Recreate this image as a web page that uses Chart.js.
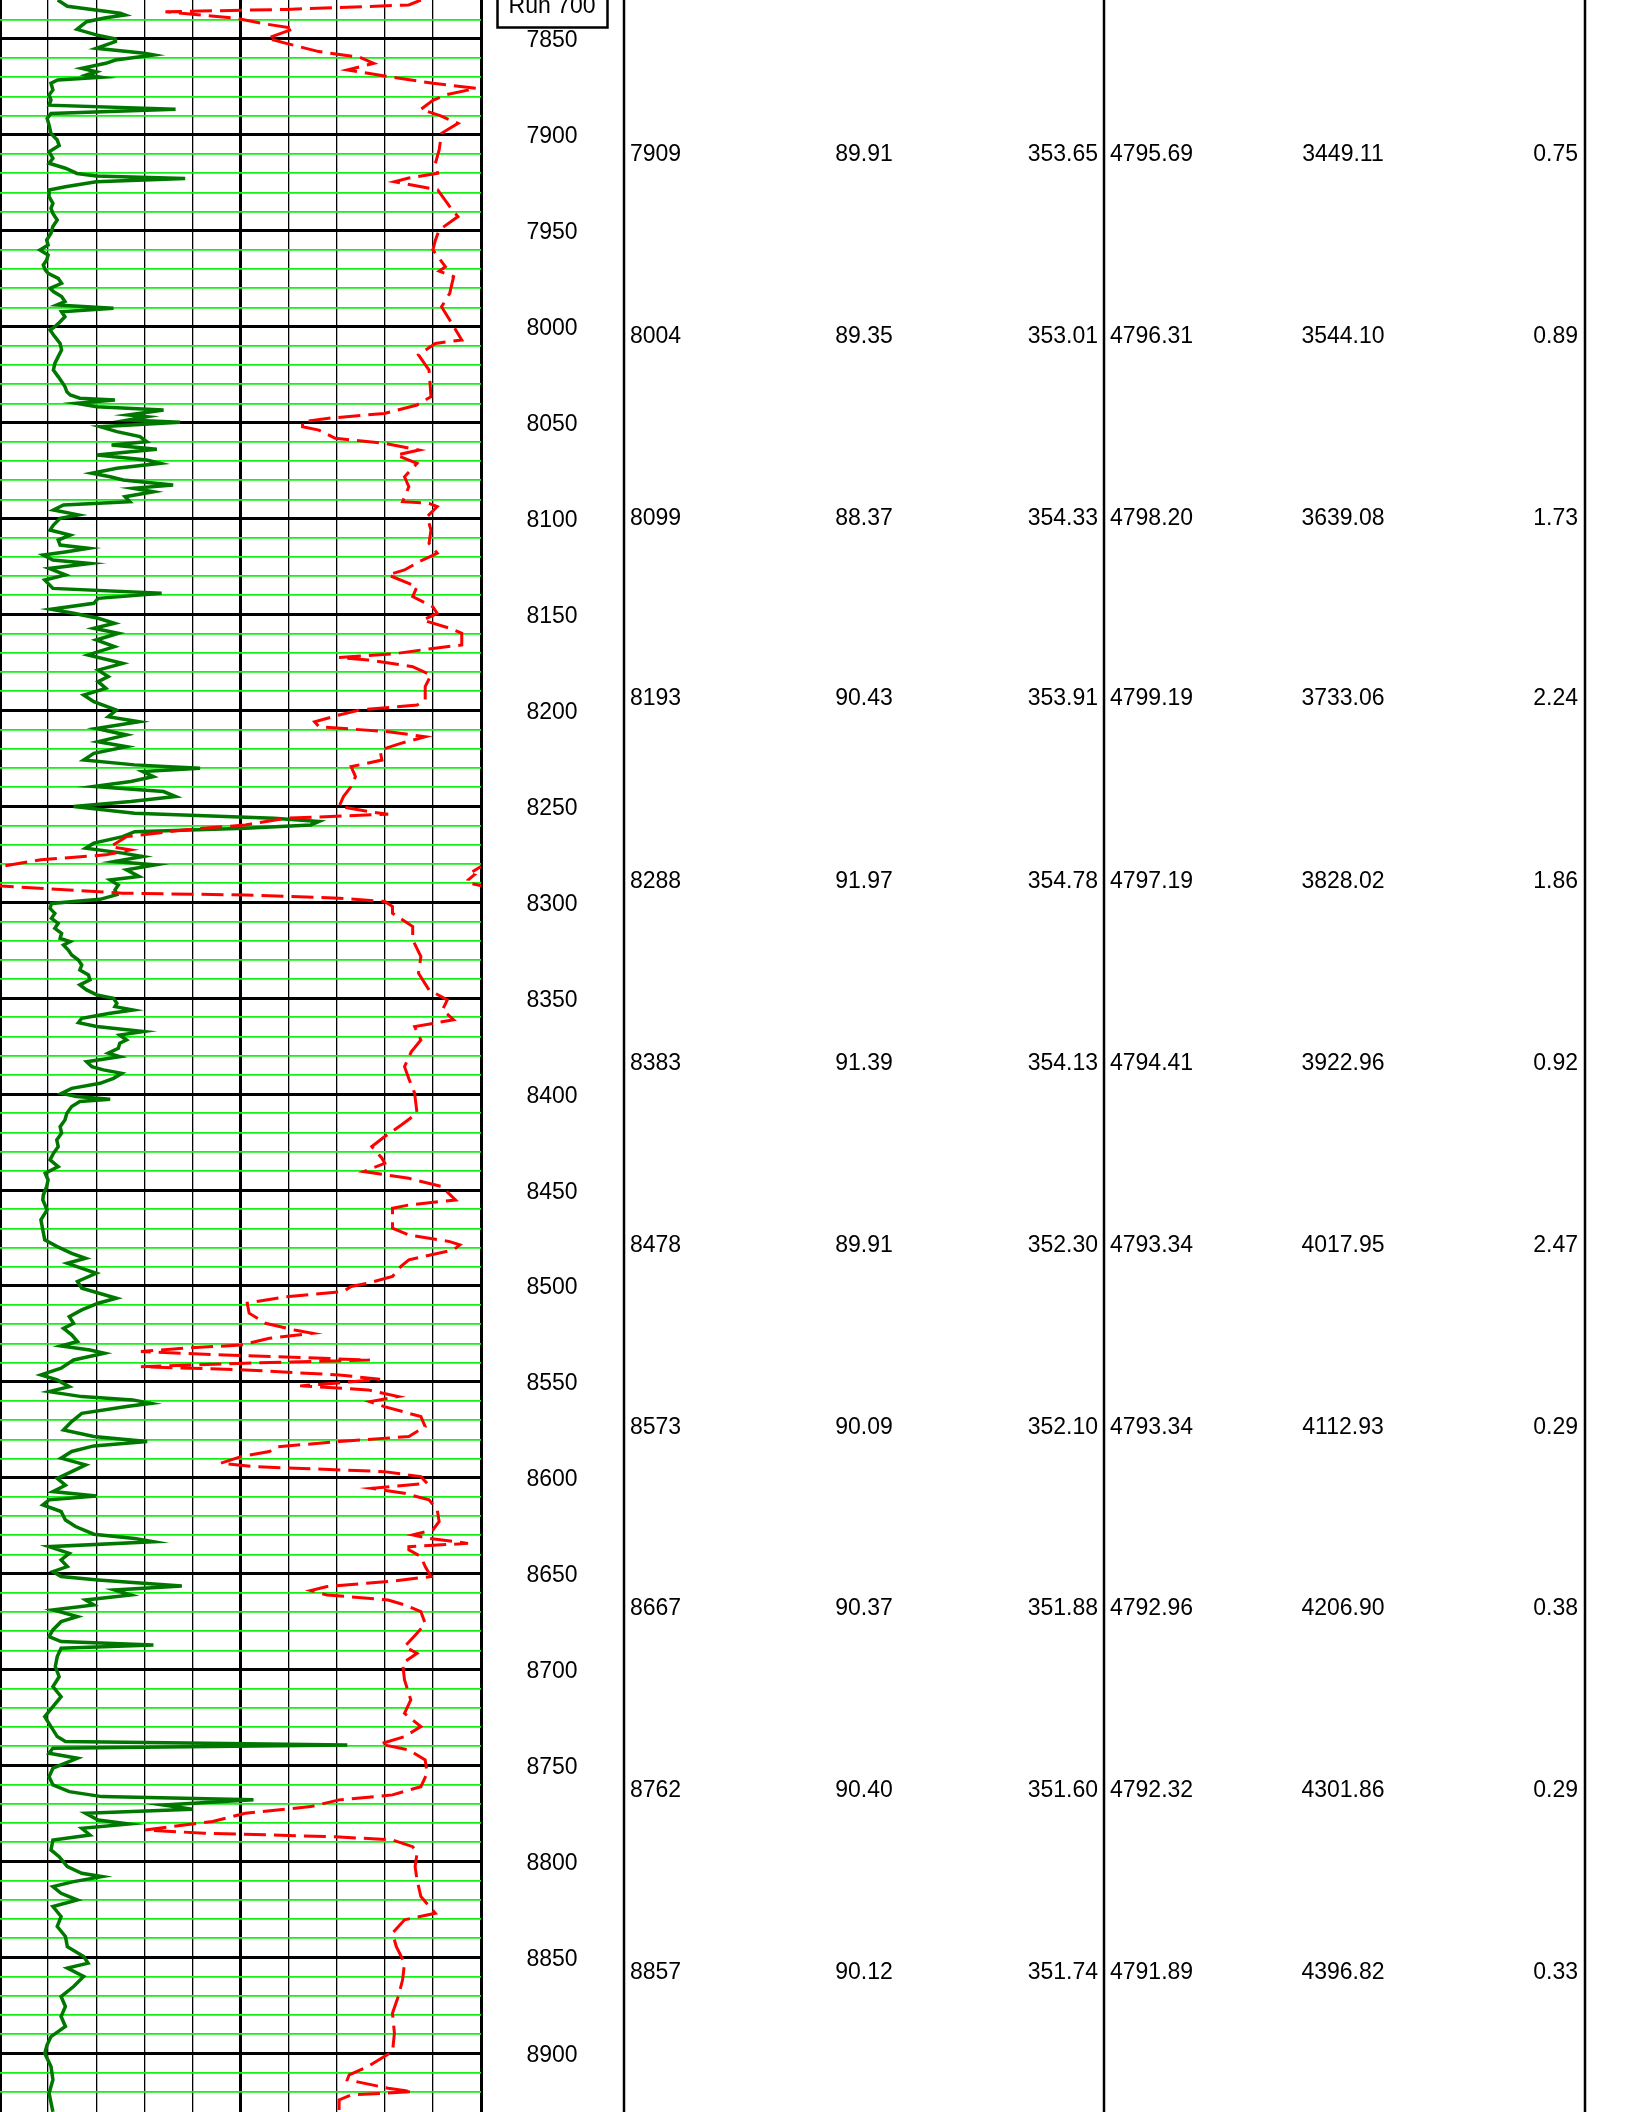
<!DOCTYPE html>
<html>
<head>
<meta charset="utf-8">
<script src="https://cdn.jsdelivr.net/npm/chart.js@4.4.1/dist/chart.umd.min.js"></script>
<style>
  html, body { margin: 0; padding: 0; background: #fff; }
  canvas { display: block; }
</style>
</head>
<body>
<canvas id="logChart" width="1632" height="2112"></canvas>
<script>
// depth window shown on the sheet (ft)
const depthTop = 7829.7;
const depthBottom = 8930.6;
const depthLabels = [7850, 7900, 7950, 8000, 8050, 8100, 8150, 8200, 8250, 8300, 8350,
  8400, 8450, 8500, 8550, 8600, 8650, 8700, 8750, 8800, 8850, 8900];

// green (solid) curve, track units 0-100
const greenDepth = [7829.7,7833,7836.6,7837.5,7839,7841,7845,7847.9,7850,7851.4,7854.9,7857.5,7858.4,7861,7862.7,7865.3,7867.1,7868.8,7870,7871.4,7873.1,7876.6,7879.2,7881.8,7884.5,7886.7,7888.8,7891.4,7894.9,7899.2,7902.7,7905.6,7908.8,7912.2,7914.8,7917.4,7920.1,7921.4,7922.7,7924.4,7927,7928.7,7932.2,7935.7,7938.3,7940.9,7944.4,7947.8,7951.3,
  7954.8,7957.4,7960,7962.6,7965.2,7967.8,7970.4,7972.2,7974.8,7977.4,7980,7981.7,7984.3,7986.9,7988.7,7990.4,7992.2,7994.8,7997.4,8000,8001.7,8005.2,8008.7,8012.1,8015.6,8019.1,8022.6,8026,8028.6,8031.2,8033.9,8035.6,8037.3,8038.2,8039.9,8041.7,8043.4,8046,8046.9,8048.6,8049.8,8052.1,8054.7,8057.3,8059.9,8061.7,8063.9,8066.9,8069.5,8071.2,8073.8,8076.4,8078.2,8079.9,8082.5,8084.2,8086,8088.6,8091.2,8092.9,8095.5,8098.1,8099.9,8103.4,8106,8108.6,8111.2,8113.8,8115.5,8117.3,8119,
  8121.6,8123.4,8126,8129.4,8132,8136.4,8139,8141.6,8144.2,8147.3,8149.4,8152,8154.6,8157.2,8159.8,8163.3,8166.8,8171.1,8175.5,8179,8182.4,8185,8188.5,8192,8195.5,8199.8,8203.3,8205.9,8209.4,8212.8,8216.3,8218.9,8222.4,8225.9,8228.4,8230.1,8231.9,8234.5,8237.1,8239.7,8242.3,8244.9,8247.5,8250.1,8253.6,8256.2,8257.9,8259.7,8261.4,8263.2,8265.8,8269.2,8271.8,8274.4,8276.2,8278.8,8280.5,8283.1,8286.6,
  8288.4,8291,8293.6,8296,8298.5,8300.6,8303.2,8305.8,8308.4,8311,8313.6,8316.2,8318.8,8320.5,8322.3,8324.9,8327.5,8330.1,8332.7,8335.3,8337.9,8340.5,8343.1,8345.7,8348.3,8350.1,8352.7,8354.4,8356.2,8357.9,8360.5,8362.8,8364.8,8367.4,8369.2,8371.8,8373.5,8376.1,8378.7,8380.5,8383.1,8385.7,8387.4,8389.2,8391.8,8394.4,8397,8399.6,8401.3,8402.7,8403.9,8406.5,8410,8413.5,8417,8420.4,8423.9,8427.4,8430.9,8434.3,8437.8,8441.3,8444.8,8448.2,8452.6,
  8455.2,8460.4,8465.6,8470.8,8476,8479.5,8483,8485.6,8488.2,8493.4,8497.7,8501.2,8506.4,8509,8512.5,8516,8519.5,8522.1,8525.5,8529,8531.3,8533.4,8535.1,8538.6,8542.9,8546.4,8549,8552.5,8555.1,8557.7,8559.4,8561.2,8562.9,8566.4,8570.7,8575.1,8578.5,8581.1,8583.4,8586.3,8589.8,8593.3,8596.8,8600.3,8603.9,8607.2,8609.5,8611.5,8614.1,8617.6,8622,8625.4,8629.4,8631.6,8633.3,8635.9,8639.4,8642.8,8646.3,8648.9,8651.5,8653.3,8656.4,8658.5,8661.1,8663.7,8666.3,8668.9,8672.4,8675,8679.3,8682.8,8685.4,8687.2,8688.9,8693.2,8698.4,8703.7,8708.9,8714.1,8719.3,8724.5,8729.7,8734.9,8737.5,8739.3,8741,8743.6,8746.2,8748.8,8751.4,8755.8,8760.1,8763.6,8766.2,8767.9,8770.6,8772.8,8774.9,8778.4,8780.5,8782.7,8786.2,8788.8,8794,8797.5,8802.7,8806.2,8807.9,8810.5,8813.1,8816.6,8820.1,8823.5,8828.7,8833.9,8839.1,8844.4,8849.6,8853,8855.6,8860,8865.2,8870.4,8875.6,8880.8,8886,8891.3,8895.6,8900,8906.9,8913.8,8920.8,8930.5];
const greenValue = [12,14,25,26,22,18,16,20,24,24,20,30,32,24,22,17,20,18,21,12,10.6,11,10.2,10.6,10.2,36.5,10.6,9.8,10.2,10.6,11.9,12.3,10.2,11,10.2,13.6,16,20,38.5,20,13.6,10.2,10.2,11,10.6,11,11.9,11,10.6,
  9.7,10,8.3,10,9.7,9,9.4,10,12.1,12.8,10.4,11.1,12.8,13.5,11.8,23.6,12.8,13.5,12.5,11.4,10.4,11.4,12.5,12.8,12.1,11.4,11.1,12.1,12.8,13.5,13.9,14.6,16.6,23.9,15.9,20.1,34,26.7,30.5,26.7,37.4,20.8,24.3,29.1,30.5,23.2,32.6,20.1,30.5,33.3,24.3,19.1,22.9,25.6,36,27.7,31.9,26,27,13.2,11.1,16.3,12.5,11.1,10.4,14.6,12.1,12.5,18.4,13.9,9,
  11,18.7,10.2,13.6,9.3,11,33.6,20.4,19.5,10.6,15.3,20.4,23.8,19.5,24.6,20,23.8,18.3,25.5,20.4,22.5,20.4,22,17.4,19.5,24.2,22.5,28.9,20,26.3,20.4,26.3,19.5,17.4,28,41.6,29.7,31.9,27.2,19.5,34,36.5,27.2,15.3,28,57,66.3,64.6,51,28,25.5,19.5,17.8,25.5,29.7,23.8,32.3,26.3,28.9,
  22.9,24.6,23.9,24.3,20.8,10.7,10.4,11.4,10.7,12.1,11.4,12.8,12.5,14.6,13.2,14.2,14.9,16.3,17,16.6,18.4,18.7,16.6,18,20.1,23.6,24.3,23.9,27.7,22.9,17,16.3,20.1,29.8,24.9,26.3,24.9,24.6,22.5,24.9,18,19.1,21.5,25.3,23.6,20.8,14.9,12.8,15.9,22.9,16.6,14.9,13.9,13.5,12.5,12.8,11.8,12.1,11.1,10.4,12.1,9.4,10,9.7,9,
  8.9,9.8,8.5,8.9,9.3,11.9,14.9,17.8,14,20,16.1,17,24.2,20.4,17,14.4,15.3,13.2,14.9,16.1,12.7,18.7,21.7,15.3,12.7,8.5,11.9,14.4,10.2,17,27.6,31.4,26.3,17,14.9,13.2,19.5,30.6,19.5,14.9,12.7,17.8,14.9,11.9,13.6,11,20,10.2,8.9,12.7,13.6,15.7,19.5,28,31.9,10.2,14.4,12.7,14,11,12.7,20.4,37.8,23.8,27.2,17.8,19.5,11,16.1,12.7,11,10.2,12.7,31.9,12.7,11.9,11.5,12.3,11,12.7,11,9.3,10.6,11.9,13.6,72.2,11,10.2,16.1,13.6,11,10.2,11,14.4,21.2,52.7,34,40,17.8,20.4,26.8,17,18.7,11,10.6,12.3,14,17,21.2,15.3,11,12.7,16.1,11,12.7,11.9,13.6,14,17.4,18.3,14,17.4,15.3,12.7,13.6,12.7,13.6,10.6,9.8,9.3,10.6,11,10.2,11];

// red (dashed) curve, track units 0-100 (negative = ran off the left edge)
const redDepth = [7829.7,7832.3,7834.6,7835.8,7839.3,7842.2,7844.5,7849.7,7852.3,7856.6,7859.6,7862.7,7866.2,7869.3,7873.1,7875.7,7879.2,7882,7886.7,7890,7894,7899.2,7907.9,7915,7920,7922.5,7924.4,7928.7,7937.4,7942.6,7949.6,7955,7960,7968.7,7971,7973.9,7982.6,7989.6,7996.5,8006.9,8008.7,8014.7,8022.6,8036.5,8040.8,8045.2,8047.8,8049.5,8052.1,8053.9,8058.2,8060.8,8064.3,8066.9,8071.2,8078.2,8083.4,8091.2,8092.1,8093.8,8099,8106,8112.9,8118.1,8122.5,8126.8,8129.4,8135.5,8140.7,8146,8149.4,8152.9,8157.2,8159.8,8165.9,8167.7,8170.6,8172.4,8173.7,8177.2,8181.6,8187.6,8194.6,8197.2,8199.8,8202.4,8205.9,8208.5,8211.1,8213.7,8217.2,8220.7,8225.9,8229.3,8234.5,8239.7,8244.9,8250.1,8252.7,8254.1,8256.2,8259.7,8262.3,8265.8,8271,8272.7,8275.3,8277.9,8281.4,8284.9,8285.7,8288.4,8290.1,8291.5,8295.3,8296.2,8297.9,8299.6,8302.2,8305.7,8312.7,8319.6,8328.3,8337,8345.7,8350.9,8356,8361.3,8364.8,8371.8,8378,8385.7,8392,8399.5,8410,8416,8422.1,8427.3,8433.4,8436.1,8440.4,8443.9,8448.2,8455.2,8457.8,8459.5,8469.9,8473.4,8476.9,8478.6,8481.2,8486.4,8489.9,8495.1,8498.6,8500.3,8502.9,8505.6,8509,8514.2,8519.5,8523,8524.7,8527.3,8530.8,8532.5,8534.2,8536,8538.6,8540.3,8542.1,8543.8,8546.4,8548.7,8550.7,8552.1,8554.2,8557.7,8560.3,8562.9,8568.1,8573.3,8578.5,8581.1,8583.8,8586.3,8589,8592.4,8594.2,8596.8,8599.4,8602.9,8605.5,8608.1,8611.5,8616.8,8622.8,8627.2,8629.8,8631.6,8634.2,8635.9,8637.6,8641.1,8646.3,8651.5,8654.1,8656.7,8658.8,8661.1,8663.7,8666.3,8669.8,8675.9,8681.1,8688,8691.5,8696.7,8705.4,8715.8,8722.8,8729.7,8734.9,8738.8,8741.9,8747.1,8754,8761,8765.3,8767.9,8771.4,8774.9,8779.2,8781.8,8783.6,8785.3,8787.1,8788.8,8792.3,8795.7,8802.7,8809.6,8818.3,8827,8830.4,8837.4,8844.4,8853,8861.7,8870.4,8879.1,8889.5,8899.1,8906.9,8911.2,8913.8,8918.2,8920,8921.7,8924.3,8930.5];
const redValue = [87.5,85,59.5,34.4,49.3,55.2,61.2,55.6,59.5,66.3,74.8,77.7,72.2,80,90,99,92.6,90,87.5,91.5,95.2,91.8,91.3,90.5,91,85,82,91,93.5,95.2,91.3,90.5,90,92.6,91.3,94.3,93.5,91.8,93.5,96,90.5,87,89.2,89.6,86.7,79.9,68,62.9,62.9,66.3,69.7,79.9,87.1,82.4,86.7,84.1,85,83.7,89.2,90.9,88.8,89.6,89.2,90.9,87.1,84.1,80.7,86.7,85.8,90,90.9,87.9,93.5,96,96,90,81.6,70.5,76.5,85.8,89.6,88.4,88.4,86.7,74.8,70.5,65.4,66.3,80.7,88.4,83.3,79,79.4,73,73.9,73,71.4,70.5,76.5,80.7,59.5,51,38.2,26.3,23,27.2,22,8.5,0,-2.3,-1.4,-2.7,-2.3,0.3,25.5,51,70.5,80,81.6,81.6,85.8,85.8,87.5,87,89.2,93,92,94.3,86.2,87.5,85.5,84.1,85,86.2,86.7,83.5,80,77.3,79.4,80,75.6,85,91.8,94.7,85,81.6,81.6,85,93.5,95.6,94.3,85,83.3,81.6,76.5,73,71.4,59.5,51.4,51.8,55.2,61.2,65,56,50.1,38.2,29.3,46.7,76.9,51,29.3,51,70.5,79,69.7,62.4,76.5,82.8,76.9,79.9,87.5,88.4,85,70.5,57.8,56,50.1,45.9,52.7,79.9,87.5,88.8,77.3,84.1,89.2,90.9,91.3,90,85.8,89.2,97.3,85,85,87.5,88.4,89.6,80.7,68,64.6,68,80.7,84.1,87.5,88.4,86.7,84.1,86.7,83.7,84.1,85.4,84.1,87.5,84.1,79,85,88.4,88.8,87.5,81.6,70.5,64.6,51,44.2,35.7,30.2,42.5,69.7,81.6,85.8,86.7,86.3,86.7,87.5,90.5,84.1,81.6,82.4,84.1,83.7,82.8,81.6,82,81.6,76.5,72.6,72.2,80.7,85.8,73,70.5,70.5];

// survey table
const surveyMD  = [7909, 8004, 8099, 8193, 8288, 8383, 8478, 8573, 8667, 8762, 8857];
const surveyInc = [89.91, 89.35, 88.37, 90.43, 91.97, 91.39, 89.91, 90.09, 90.37, 90.40, 90.12];
const surveyAzi = [353.65, 353.01, 354.33, 353.91, 354.78, 354.13, 352.30, 352.10, 351.88, 351.60, 351.74];
const surveyTVD = [4795.69, 4796.31, 4798.20, 4799.19, 4797.19, 4794.41, 4793.34, 4793.34, 4792.96, 4792.32, 4791.89];
const surveyVS  = [3449.11, 3544.10, 3639.08, 3733.06, 3828.02, 3922.96, 4017.95, 4112.93, 4206.90, 4301.86, 4396.82];
const surveyDLS = [0.75, 0.89, 1.73, 2.24, 1.86, 0.92, 2.47, 0.29, 0.38, 0.29, 0.33];
const runLabel = 'Run 700';

const greenPoints = greenDepth.map((d, i) => ({ x: greenValue[i], y: d }));
const redPoints = redDepth.map((d, i) => ({ x: redValue[i], y: d }));
// the stretch that ran off the left edge shows up again at the right edge
const redWrapPoints = redDepth
  .map((d, i) => ({ x: redValue[i] + 100, y: d, i }))
  .filter(p => redValue[p.i] < 0 || redValue[p.i - 1] < 0 || redValue[p.i + 1] < 0)
  .map(p => ({ x: p.x, y: p.y }));

const FONT = '23px "Liberation Sans", Arial, Helvetica, sans-serif';

const sheetPlugin = {
  id: 'sheet',
  afterDraw(chart) {
    const { ctx, scales: { y } } = chart;
    ctx.save();

    // track borders
    ctx.strokeStyle = '#000';
    ctx.lineWidth = 2.5;
    [624, 1104, 1585].forEach((xPos) => {
      ctx.beginPath();
      ctx.moveTo(xPos, 0);
      ctx.lineTo(xPos, chart.height);
      ctx.stroke();
    });

    // depth track labels
    ctx.font = FONT;
    ctx.fillStyle = '#000';
    ctx.textBaseline = 'alphabetic';
    ctx.textAlign = 'center';
    depthLabels.forEach((d) => {
      ctx.fillText(String(d), 552, y.getPixelForValue(d) + 8.5);
    });

    // run box
    ctx.lineWidth = 2.5;
    ctx.strokeRect(497.5, -20, 110, 47.5);
    ctx.fillText(runLabel, 552, 13);

    // survey rows, centred on their measured depth
    surveyMD.forEach((md, i) => {
      const yPos = y.getPixelForValue(md) + 8.5;
      ctx.textAlign = 'left';
      ctx.fillText(String(md), 630, yPos);
      ctx.textAlign = 'center';
      ctx.fillText(surveyInc[i].toFixed(2), 864, yPos);
      ctx.textAlign = 'right';
      ctx.fillText(surveyAzi[i].toFixed(2), 1098, yPos);
      ctx.textAlign = 'left';
      ctx.fillText(surveyTVD[i].toFixed(2), 1110, yPos);
      ctx.textAlign = 'center';
      ctx.fillText(surveyVS[i].toFixed(2), 1343, yPos);
      ctx.textAlign = 'right';
      ctx.fillText(surveyDLS[i].toFixed(2), 1578, yPos);
    });

    ctx.restore();
  },
};

const onMultiple = (v, step) => Math.abs(v - Math.round(v / step) * step) < 0.01;

const config = {
  type: 'line',
  data: {
    datasets: [
      {
        label: 'red',
        data: redPoints,
        borderColor: '#ff0000',
        borderWidth: 3,
        borderDash: [22, 8],
        pointRadius: 0,
        tension: 0,
      },
      {
        label: 'red wrap',
        data: redWrapPoints,
        borderColor: '#ff0000',
        borderWidth: 3,
        borderDash: [10, 6],
        pointRadius: 0,
        tension: 0,
      },
      {
        label: 'green',
        data: greenPoints,
        borderColor: '#007800',
        borderWidth: 3.5,
        pointRadius: 0,
        tension: 0,
      },
    ],
  },
  options: {
    responsive: false,
    animation: false,
    indexAxis: 'y',
    layout: { padding: { left: 0, top: 0, bottom: 0, right: 1632 - 481 } },
    plugins: {
      legend: { display: false },
      tooltip: { enabled: false },
    },
    scales: {
      x: {
        type: 'linear',
        position: 'top',
        min: 0,
        max: 100,
        border: { display: false },
        ticks: { display: false, stepSize: 10, autoSkip: false },
        grid: {
          drawTicks: false,
          color: '#000',
          lineWidth: (c) => {
            const v = c.tick.value;
            return v === 0 || v === 50 || v === 100 ? 3 : 1.3;
          },
        },
      },
      y: {
        type: 'linear',
        reverse: true,
        min: depthTop,
        max: depthBottom,
        border: { display: false },
        ticks: { display: false, stepSize: 10, autoSkip: false },
        grid: {
          drawTicks: false,
          color: (c) => {
            const v = c.tick.value;
            if (onMultiple(v, 50)) return '#000';
            if (onMultiple(v, 10)) return '#14f014';
            return 'rgba(0,0,0,0)';
          },
          lineWidth: (c) => (onMultiple(c.tick.value, 50) ? 3 : 1.7),
        },
      },
    },
  },
  plugins: [sheetPlugin],
};

const logChart = new Chart(document.getElementById('logChart'), config);
</script>
</body>
</html>
